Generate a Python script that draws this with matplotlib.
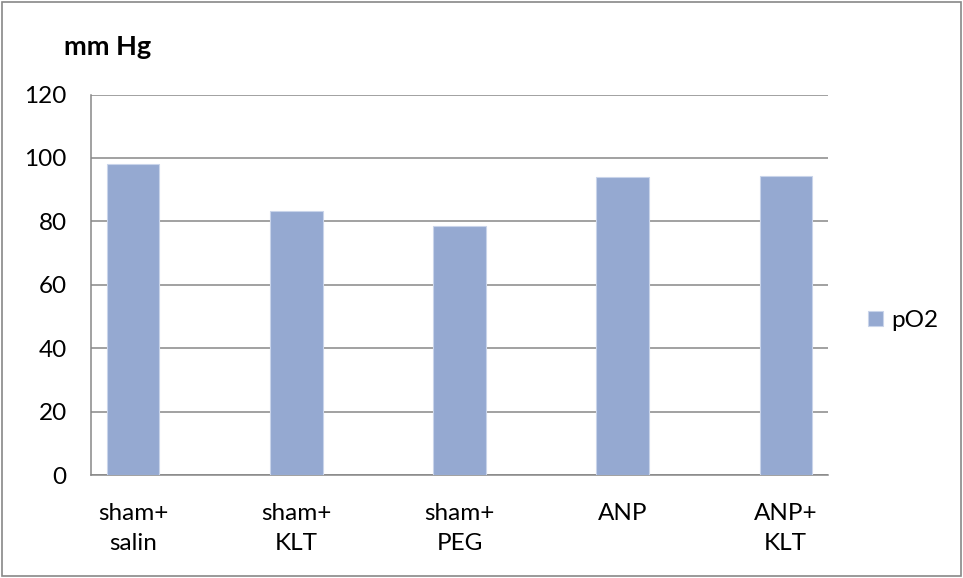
import matplotlib.pyplot as plt
from matplotlib.patches import Rectangle

groups = ["sham+\nsalin", "sham+\nKLT", "sham+\nPEG", "ANP", "ANP+\nKLT"]
po2 = [98, 83.3, 78.5, 94, 94.2]
y_ticks = [0, 20, 40, 60, 80, 100, 120]

bar_color = "#95A9D1"
grid_color = "#878787"

plt.rcParams["font.family"] = ["Lato", "DejaVu Sans"]

fig = plt.figure(figsize=(9.63, 5.78), dpi=100)
ax = fig.add_axes([0.0945, 0.1782, 0.7653, 0.6583])

positions = range(len(groups))
ax.bar(
    positions,
    po2,
    width=0.32,
    color=bar_color,
    edgecolor="#C9D4EA",
    linewidth=0.8,
    label="pO2",
    zorder=3,
)

ax.set_xlim(-0.26, len(groups) - 1 + 0.26)
ax.set_ylim(0, 120)
ax.set_yticks(y_ticks)
ax.set_xticks(list(positions))
ax.set_xticklabels(groups, linespacing=1.55)
ax.tick_params(axis="both", length=0, labelsize=17.5)
ax.tick_params(axis="y", pad=17.5)
ax.tick_params(axis="x", pad=20)

ax.yaxis.grid(True, color=grid_color, linewidth=1.1, zorder=0)
for side in ["top", "right"]:
    ax.spines[side].set_visible(False)
for side in ["left", "bottom"]:
    ax.spines[side].set_color(grid_color)
    ax.spines[side].set_linewidth(1.1)

fig.text(0.066, 0.918, "mm Hg", fontsize=19.5, fontweight="bold", va="center")

ax.legend(
    loc="center left",
    bbox_to_anchor=(868 / 963, 1 - 320.5 / 578),
    bbox_transform=fig.transFigure,
    frameon=False,
    fontsize=17.5,
    borderpad=0,
    borderaxespad=0,
    handlelength=0.62,
    handleheight=0.62,
    handletextpad=0.35,
)

# outer chart border
fig.patches.append(
    Rectangle(
        (0.002, 0.003), 0.996, 0.994,
        transform=fig.transFigure,
        fill=False,
        edgecolor="#888888",
        linewidth=1.2,
    )
)

fig.savefig("out.png", dpi=100)
